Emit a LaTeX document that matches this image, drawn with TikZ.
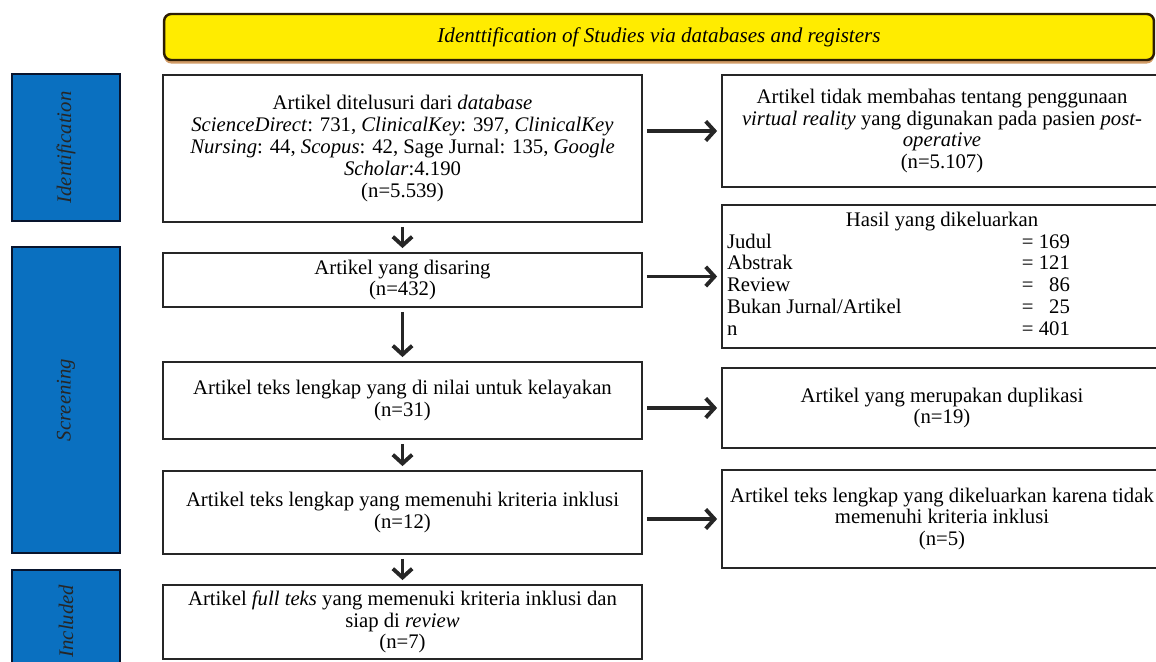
\documentclass[tikz,border=0pt]{standalone}
\usepackage{fontspec}
\setmainfont{Liberation Serif}
\usetikzlibrary{arrows.meta,shadows}
\definecolor{phaseblue}{RGB}{10,112,192}
\definecolor{phaseline}{RGB}{8,20,45}
\definecolor{banneryellow}{RGB}{255,236,0}
\definecolor{bannerline}{RGB}{45,30,5}
\newcommand{\rowval}[1]{= \makebox[1.5em][r]{#1}}

\begin{document}
\begin{tikzpicture}[x=0.02cm, y=-0.02cm,
    font=\fontsize{11.8}{12.4}\selectfont,
    box/.style={draw=black!85, line width=1.6pt, fill=white, align=center,
      inner sep=2pt, minimum width=9.58cm},
    sidebox/.style={box, minimum width=8.8cm},
    phase/.style={draw=phaseline, fill=phaseblue, line width=1.6pt, rotate=90,
      text=black!85, font=\fontsize{11.8}{12.4}\selectfont\itshape, minimum height=2.16cm},
    banner/.style={draw=bannerline, fill=banneryellow, line width=1.4pt, rounded corners=4pt,
      minimum width=19.8cm, minimum height=0.92cm, font=\fontsize{12}{12.4}\selectfont\itshape,
      drop shadow={shadow xshift=0pt, shadow yshift=-2pt, fill=orange!70!black, opacity=0.6}},
    arr/.style={line width=1.9pt, draw=black!85,
      -{Straight Barb[length=5pt,width=11pt,line width=2.2pt]},
      shorten <=2pt, shorten >=2pt}]
  \useasboundingbox (0,0) rectangle (1156,662);

  \node[banner] (title) at (659,37) {Identtification of Studies via databases and registers};

  \node[phase, minimum width=2.94cm] (ident) at (66,147.5) {Identification};
  \node[phase, minimum width=6.12cm] (screen) at (66,400) {Screening};
  \node[phase, minimum width=2.04cm] (incl) at (66,621) {Included};

  \node[box, minimum height=2.94cm] (found) at (402.5,148.5) {Artikel ditelusuri dari \textit{database}\\
    \textit{ScienceDirect}: 731, \textit{ClinicalKey}: 397, \textit{ClinicalKey}\\
    \textit{Nursing}: 44, \textit{Scopus}: 42, Sage Jurnal: 135, \textit{Google}\\
    \textit{Scholar}:4.190\\ (n=5.539)};
  \node[box, minimum height=1.08cm] (screened) at (402.5,280) {Artikel yang disaring\\ (n=432)};
  \node[box, minimum height=1.54cm] (assessed) at (402.5,400.5)
    {Artikel teks lengkap yang di nilai untuk kelayakan\\ (n=31)};
  \node[box, minimum height=1.66cm] (eligible) at (402.5,512.5)
    {Artikel teks lengkap yang memenuhi kriteria inklusi\\ (n=12)};
  \node[box, minimum height=1.48cm] (included) at (402.5,622)
    {Artikel \textit{full teks} yang memenuki kriteria inklusi dan\\ siap di \textit{review}\\ (n=7)};

  \node[sidebox, minimum height=2.24cm] (notvr) at (942,131)
    {Artikel tidak membahas tentang penggunaan\\
    \textit{virtual reality} yang digunakan pada pasien \textit{post-}\\
    \textit{operative}\\ (n=5.107)};
  \node[sidebox, minimum height=2.86cm] (excluded) at (942,276.5)
    {\begin{tabular}{@{}p{5.9cm}@{}p{2.7cm}@{}}
      \multicolumn{2}{@{}c@{}}{Hasil yang dikeluarkan}\\
      Judul & \rowval{169}\\
      Abstrak & \rowval{121}\\
      Review & \rowval{86}\\
      Bukan Jurnal/Artikel & \rowval{25}\\
      n & \rowval{401}
    \end{tabular}};
  \node[sidebox, minimum height=1.6cm] (dupl) at (942,408) {Artikel yang merupakan duplikasi\\ (n=19)};
  \node[sidebox, minimum height=1.96cm] (notincl) at (942,519)
    {Artikel teks lengkap yang dikeluarkan karena tidak\\ memenuhi kriteria inklusi\\ (n=5)};

  \foreach \a/\b in {found/screened, screened/assessed, assessed/eligible, eligible/included}
    \draw[arr] (\a) -- (\b);
  \foreach \a/\b in {found/notvr, screened/excluded, assessed/dupl, eligible/notincl}
    \draw[arr] (\a.east |- \b.west) -- (\b.west);
\end{tikzpicture}
\end{document}
